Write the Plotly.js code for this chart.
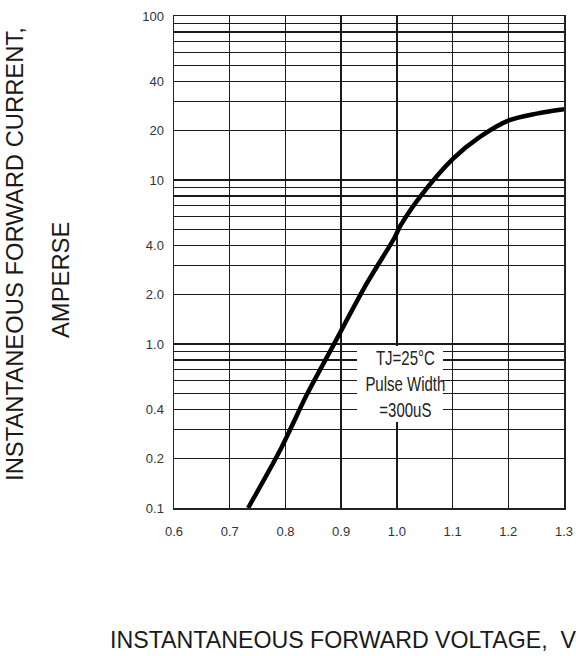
<!DOCTYPE html>
<html>
<head>
<meta charset="utf-8">
<script src="https://cdn.plot.ly/plotly-3.0.1.min.js"></script>
<style>
  html, body { margin: 0; padding: 0; background: #ffffff; }
  #chart { width: 576px; height: 656px; }
</style>
</head>
<body>
<div id="chart"></div>
<script>
// Forward characteristic curve
const voltage = [0.733, 0.793, 0.838, 0.883, 0.946, 0.995, 1.007, 1.044, 1.101, 1.149, 1.201, 1.251, 1.300];
const current = [0.1, 0.234, 0.488, 0.94, 2.34, 4.40, 5.30, 8.08, 13.5, 18.3, 23.1, 25.4, 27.0];

// Axis ticks
const xTickVals = [0.6, 0.7, 0.8, 0.9, 1.0, 1.1, 1.2, 1.3];
const xTickText = ['0.6', '0.7', '0.8', '0.9', '1.0', '1.1', '1.2', '1.3'];
const yGridVals = [0.1, 0.2, 0.3, 0.4, 0.5, 0.6, 0.7, 0.8, 0.9,
                   1, 2, 3, 4, 5, 6, 7, 8, 9,
                   10, 20, 30, 40, 50, 60, 70, 80, 90, 100];
const yLabelVals = [0.1, 0.2, 0.4, 1, 2, 4, 10, 20, 40, 100];
const yLabelText = ['0.1', '0.2', '0.4', '1.0', '2.0', '4.0', '10', '20', '40', '100'];

// Texts
const yTitleLine1 = 'INSTANTANEOUS FORWARD CURRENT,';
const yTitleLine2 = 'AMPERSE';
const xTitle = 'INSTANTANEOUS FORWARD VOLTAGE,\u00a0\u00a0VOLTS';
const noteLines = ['TJ=25\u00b0C', 'Pulse Width', '=300uS'];

const yTickText = yGridVals.map(v => {
  const i = yLabelVals.findIndex(u => Math.abs(u - v) < 1e-9);
  return i >= 0 ? yLabelText[i] : '';
});

const gridColor = '#1a1a1a';
const tickFont = {family: 'Liberation Sans, Arial, sans-serif', size: 13, color: '#333333'};
const titleFont = {family: 'Liberation Sans, Arial, sans-serif', size: 23.8, color: '#1a1a1a'};

const trace = {
  x: voltage,
  y: current,
  type: 'scatter',
  mode: 'lines',
  line: {color: '#000000', width: 4.5, shape: 'spline', smoothing: 0.8},
  hoverinfo: 'skip'
};

const layout = {
  width: 576,
  height: 656,
  margin: {l: 174, r: 12, t: 16, b: 148},
  paper_bgcolor: '#ffffff',
  plot_bgcolor: '#ffffff',
  showlegend: false,
  hovermode: false,
  xaxis: {
    range: [0.6, 1.3],
    tickmode: 'array',
    tickvals: xTickVals,
    ticktext: xTickText,
    ticks: '',
    ticklabelstandoff: 11,
    tickfont: tickFont,
    showgrid: true,
    gridcolor: gridColor,
    gridwidth: 1.3,
    zeroline: false,
    showline: true,
    mirror: true,
    linecolor: '#222222',
    linewidth: 1.5,
    fixedrange: true
  },
  yaxis: {
    type: 'log',
    range: [-1, 2],
    tickmode: 'array',
    tickvals: yGridVals,
    ticktext: yTickText,
    ticks: '',
    ticklabelstandoff: 6,
    tickfont: tickFont,
    showgrid: true,
    gridcolor: gridColor,
    gridwidth: 1.3,
    zeroline: false,
    showline: true,
    mirror: true,
    linecolor: '#222222',
    linewidth: 1.5,
    fixedrange: true
  },
  annotations: [
    {
      // white box behind the note
      text: '\u00a0',
      xref: 'x', yref: 'paper',
      x: 1.0053, y: 0.2514,
      xanchor: 'center', yanchor: 'middle',
      width: 86, height: 76,
      bgcolor: '#ffffff',
      borderpad: 0,
      borderwidth: 0,
      showarrow: false,
      font: {size: 10}
    },
    {
      text: noteLines.join('<br>'),
      xref: 'x', yref: 'paper',
      x: 1.016, y: 0.252,
      xanchor: 'center', yanchor: 'middle',
      align: 'center',
      showarrow: false,
      font: {family: 'Liberation Sans, Arial, sans-serif', size: 20, color: '#222222'}
    },
    {
      text: yTitleLine1,
      xref: 'paper', yref: 'paper',
      x: -0.4077, y: 0.5163,
      xanchor: 'center', yanchor: 'middle',
      textangle: -90,
      showarrow: false,
      font: titleFont
    },
    {
      text: yTitleLine2,
      xref: 'paper', yref: 'paper',
      x: -0.2923, y: 0.4634,
      xanchor: 'center', yanchor: 'middle',
      textangle: -90,
      showarrow: false,
      font: titleFont
    },
    {
      text: xTitle,
      xref: 'paper', yref: 'paper',
      x: -0.1692, y: -0.2683,
      xanchor: 'left', yanchor: 'middle',
      showarrow: false,
      font: {family: 'Liberation Sans, Arial, sans-serif', size: 23.2, color: '#1a1a1a'}
    }
  ]
};

Plotly.newPlot('chart', [trace], layout, {displayModeBar: false, staticPlot: true}).then(gd => {
  // condense the note text horizontally (the reference uses a narrow face)
  const txt = gd.querySelector('g.annotation[data-index="1"] text.annotation-text');
  if (txt) {
    const bb = txt.getBBox();
    const cx = bb.x + bb.width / 2;
    const prev = txt.getAttribute('transform') || '';
    txt.setAttribute('transform', prev + ' translate(' + cx + ',0) scale(0.75,1) translate(' + (-cx) + ',0)');
  }
});
</script>
</body>
</html>
